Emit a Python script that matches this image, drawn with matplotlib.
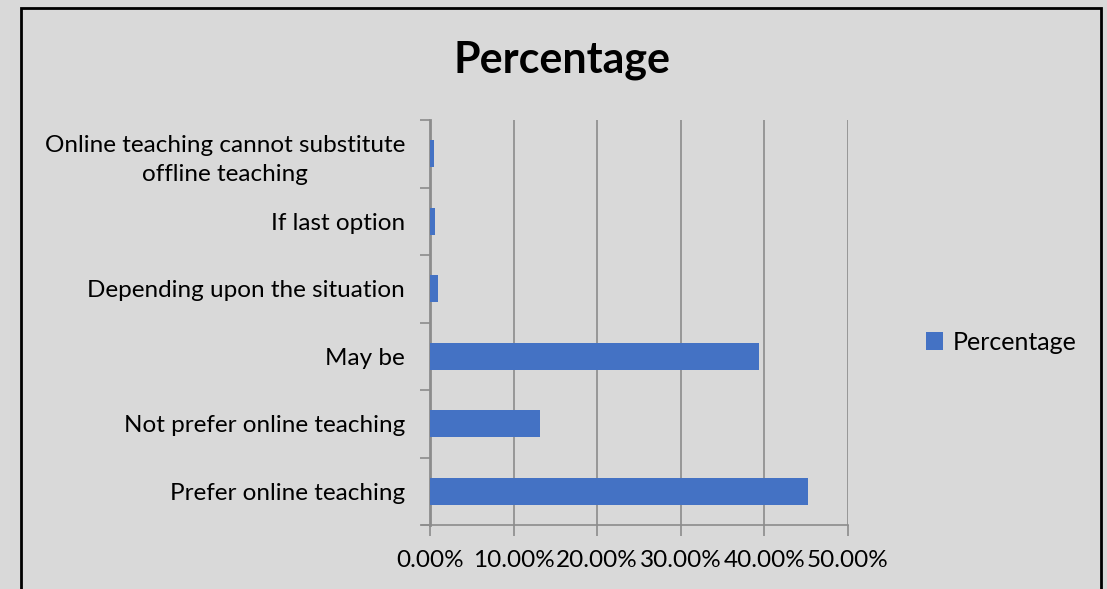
import numpy as np
import matplotlib.pyplot as plt
from matplotlib.ticker import PercentFormatter
from matplotlib.patches import Rectangle

plt.rcParams["font.family"] = ["Lato", "DejaVu Sans"]

# data (bottom to top)
categories = [
    "Prefer online teaching",
    "Not prefer online teaching",
    "May be",
    "Depending upon the situation",
    "If last option",
    "Online teaching cannot substitute\noffline teaching",
]
percentages = [45.2, 13.2, 39.3, 1.0, 0.6, 0.5]
xticks = [0, 10, 20, 30, 40, 50]

bg = "#d9d9d9"
bar_color = "#4472c4"
grid_color = "#8c8c8c"

fig = plt.figure(figsize=(11.07, 5.89), dpi=100, facecolor=bg)
ax = fig.add_axes([430 / 1107, 1 - 525 / 589, 418 / 1107, 405 / 589])
ax.set_facecolor(bg)

y = np.arange(len(categories))
ax.barh(y, percentages, height=0.4, color=bar_color, label="Percentage", zorder=3)

ax.set_xlim(0, 50)
ax.set_ylim(-0.5, len(categories) - 0.5)
ax.set_xticks(xticks)
ax.xaxis.set_major_formatter(PercentFormatter(decimals=2))
ax.set_yticks(y)
ax.set_yticklabels(categories, fontsize=17.5, linespacing=1.5)
ax.set_yticks(np.arange(-0.5, len(categories)), minor=True)
ax.tick_params(axis="y", which="major", length=0, pad=18)
ax.tick_params(axis="y", which="minor", length=7, color=grid_color, width=1.2)
ax.tick_params(axis="x", length=8, color=grid_color, width=1.2, labelsize=17.5, pad=10)
for lbl in ax.get_yticklabels():
    lbl.set_horizontalalignment("right")
    lbl.set_multialignment("center")

ax.grid(axis="x", color=grid_color, lw=1.2, zorder=0)
for s in ["top", "right"]:
    ax.spines[s].set_visible(False)
ax.spines["left"].set_color(grid_color)
ax.spines["left"].set_linewidth(2)
ax.spines["bottom"].set_color(grid_color)
ax.spines["bottom"].set_linewidth(1.2)
ax.spines["bottom"].set_bounds(-1, 50)

fig.text(562 / 1107, 1 - 60 / 589, "Percentage", fontsize=31, fontweight="bold",
         ha="center", va="center")

fig.legend(loc="center left", bbox_to_anchor=(903 / 1107, 1 - 342 / 589),
           frameon=False, fontsize=18, handlelength=0.7, handleheight=0.7,
           handletextpad=0.4)

fig.patches.append(Rectangle((21 / 1107, -0.05), 1080 / 1107, 1.05 - 8 / 589,
                             transform=fig.transFigure, fill=False,
                             edgecolor="black", lw=2))

fig.savefig("out.png", dpi=100, facecolor=bg)
